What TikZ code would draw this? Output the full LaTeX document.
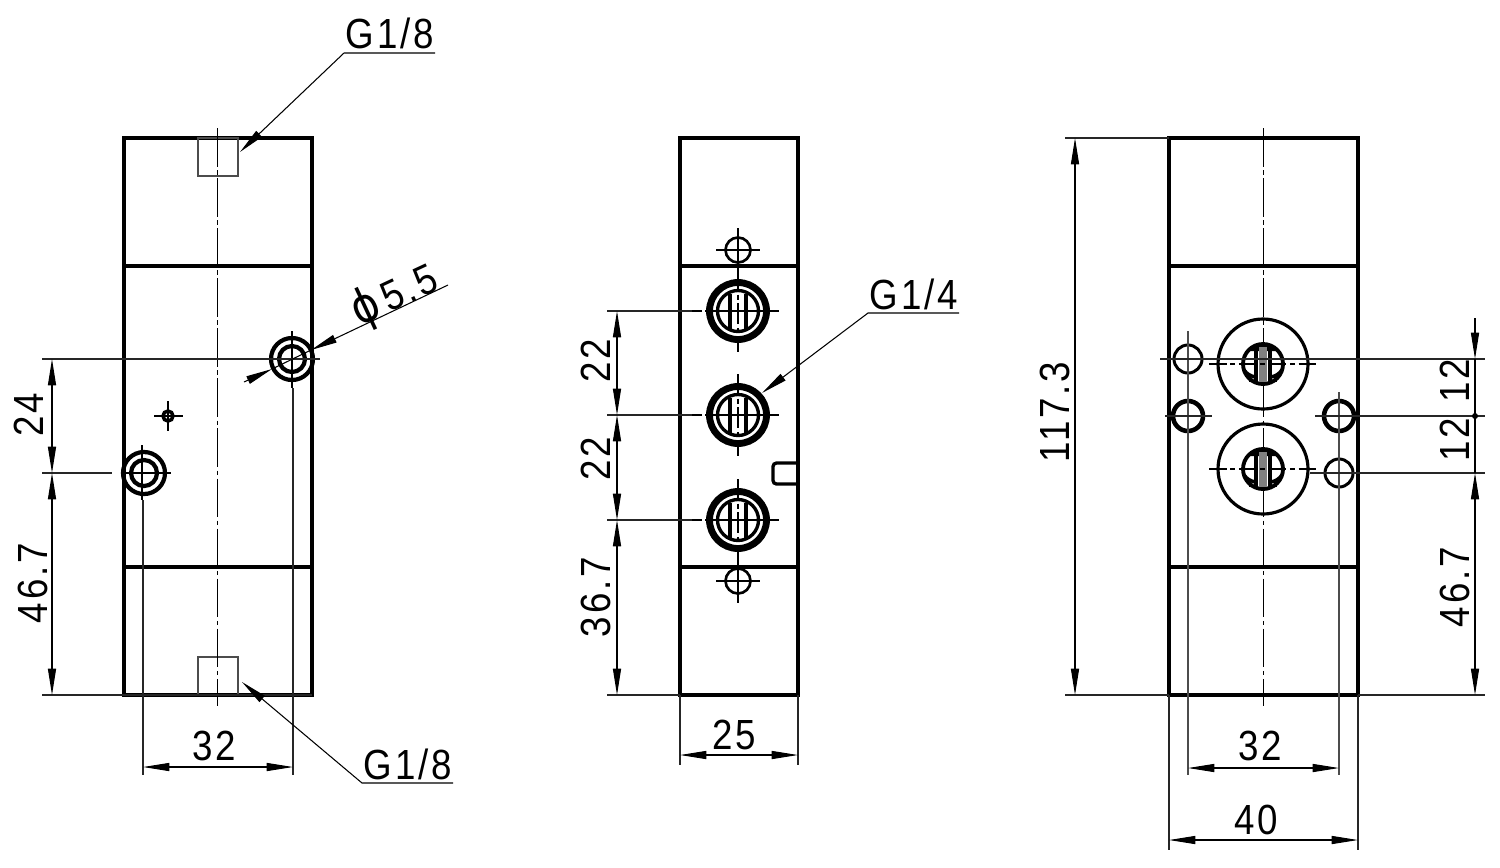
\documentclass[tikz,border=0pt]{standalone}
\usepackage{fontspec}
\setmainfont{Liberation Sans}[LetterSpace=8]
\newfontfamily\phifont{DejaVu Sans}
\usetikzlibrary{arrows.meta,calc}
\newcommand{\lbl}[1]{\scalebox{.87}[1]{#1}}
\tikzset{
  body/.style={line width=1.9pt,black},
  thin line/.style={line width=.6pt,black},
  ext/.style={line width=.6pt,black!85},
  dim/.style={line width=.6pt,black,{Triangle[length=15pt,width=4.6pt]}-{Triangle[length=15pt,width=4.6pt]}},
  onearrow/.style={line width=.6pt,black,-{Triangle[length=15pt,width=4.6pt]}},
  axis/.style={line width=.55pt,black,dash pattern=on 22pt off 2pt on 2.5pt off 2pt},
  txt/.style={font=\fontsize{24}{24}\selectfont,inner sep=0pt},
  ringo/.style={line width=2.4pt},
}
\newcommand{\midport}[1]{%
  \draw[line width=3.9pt] (#1) circle[radius=28.5];
  \draw[line width=1.9pt] (#1) circle[radius=20.5];
  \draw[line width=2pt] ($(#1)+(-8,-17)$) -- ($(#1)+(-8,18)$);
  \draw[line width=2pt] ($(#1)+(8,-17)$) -- ($(#1)+(8,18)$);
  \draw[line width=.6pt] ($(#1)+(-48,0)$) -- ($(#1)+(-36,0)$);
  \draw[line width=.6pt] ($(#1)+(-33,0)$) -- ($(#1)+(41,0)$);
  \draw[line width=.6pt,dash pattern=on 12pt off 2pt on 3pt off 2pt] ($(#1)+(0,-41)$) -- ($(#1)+(0,41)$);
}
\newcommand{\rightport}[1]{%
  \draw[line width=1.8pt] (#1) circle[radius=45];
  \fill ($(#1)+(-16,-13)$) arc[start angle=219,end angle=321,radius=21] -- cycle;
  \draw[line width=2.2pt] (#1) circle[radius=20];
  \fill[black!50] ($(#1)+(-4,-17)$) rectangle ($(#1)+(4,18)$);
  \draw[line width=1.9pt] ($(#1)+(-7,-17)$) -- ($(#1)+(-7,19)$);
  \draw[line width=1.9pt] ($(#1)+(7,-17)$) -- ($(#1)+(7,19)$);
  \draw[line width=2pt] ($(#1)+(-19,6)$) to[bend right=20] ($(#1)+(-8,13)$);
  \draw[line width=2pt] ($(#1)+(19,6)$) to[bend left=20] ($(#1)+(8,13)$);
  \draw[line width=1.2pt] ($(#1)+(-13,11)$) -- ($(#1)+(-13,18)$);
  \draw[line width=1.2pt] ($(#1)+(13,11)$) -- ($(#1)+(13,18)$);
}
\begin{document}
\begin{tikzpicture}[x=0.02cm,y=-0.02cm]
\useasboundingbox (0,0) rectangle (1500,867);
% ------- left view
\coordinate (LA) at (124,138); \coordinate (LB) at (312,695);
\draw[body] (LA) rectangle (LB);
\draw[body] (124,266) -- (312,266);
\draw[body] (124,567) -- (312,567);
\draw[thin line,black!70] (198,138) rectangle (238,176);
\draw[thin line,black!70] (198,657) rectangle (238,695);
\draw[axis] (217,128) -- (217,706);
\coordinate (LH1) at (292,359); \coordinate (LH2) at (144,473); \coordinate (LH3) at (168,416);
\draw[ringo] (LH1) circle[radius=21]; \draw[ringo] (LH1) circle[radius=13];
\draw[ringo] (LH2) circle[radius=21]; \draw[ringo] (LH2) circle[radius=13];
\draw[line width=2pt] (LH3) circle[radius=5];
\draw[thin line] (154,416) -- (183,416); \draw[thin line] (168,401) -- (168,431);
\draw[thin line] (142,445) -- (142,500); \draw[thin line] (124,473) -- (171,473);
\draw[thin line] (292,331) -- (292,388);
% dims left
\coordinate (LD1) at (42,359); \coordinate (LD2) at (42,473); \coordinate (LD3) at (42,695);
\coordinate (LE1) at (52,359); \coordinate (LE2) at (52,473); \coordinate (LE3) at (52,695);
\draw[ext] (LD1) -- (320,359);
\draw[ext] (LD2) -- (112,473);
\draw[ext] (LD3) -- (LB |- LD3);
\draw[dim] (LE1) -- (LE2);
\draw[dim] (LE2) -- (LE3);
\node[txt,rotate=90] (l24) at (29,415) {\lbl{24}};
\node[txt,rotate=90] (l467) at (33,583) {\lbl{46.7}};
\coordinate (LF1) at (143,500); \coordinate (LF2) at (293,388);
\coordinate (LG1) at (143,767); \coordinate (LG2) at (293,767);
\draw[ext] (LF1) -- (143,775); \draw[ext] (LF2) -- (293,775);
\draw[dim] (LG1) -- (LG2);
\node[txt] (l32a) at (214,746) {\lbl{32}};
% leaders
\coordinate (TA) at (240,152); \coordinate (TB) at (344,53); \coordinate (TC) at (435,53);
\draw[onearrow] (TC) -- (TB) -- (TA);
\node[txt] (g18a) at (390,33) {\lbl{G1/8}};
\coordinate (BA) at (242,682); \coordinate (BB) at (362,783); \coordinate (BC) at (453,783);
\draw[onearrow] (BC) -- (BB) -- (BA);
\node[txt] (g18b) at (408,764) {\lbl{G1/8}};
\coordinate (PA) at (448,285); \coordinate (PB) at (311,350); \coordinate (PC) at (272,369); \coordinate (PD) at (244,382);
\draw[onearrow] (PA) -- (PB);
\draw[onearrow] (PD) -- (PC);
\draw[thin line] (PB) -- (PC);
\node[txt,rotate=25] (phi) at (395,296) {\lbl{{\phifont\fontsize{27}{27}\selectfont ϕ}\,5.5}};
% ------- middle view
\draw[body] (680,138) rectangle (798,695);
\draw[body] (680,266) -- (798,266);
\draw[body] (680,567) -- (798,567);
\coordinate (MH1) at (738,250); \coordinate (MH2) at (738,581);
\foreach \c in {MH1,MH2}{
  \draw[line width=1.5pt] (\c) circle[radius=12.5];
  \draw[thin line] ($(\c)+(-22,0)$) -- ($(\c)+(22,0)$);
  \draw[thin line] ($(\c)+(0,-22)$) -- ($(\c)+(0,22)$);
}
\coordinate (MP1) at (738,311); \coordinate (MP2) at (738,415); \coordinate (MP3) at (738,520);
\midport{MP1}\midport{MP2}\midport{MP3}
\draw[line width=1.9pt,rounded corners=2pt] (798,463) -- (773,463) -- (773,484) -- (798,484);
\draw[ext] (607,311) -- (692,311);
\draw[ext] (607,415) -- (692,415);
\draw[ext] (607,520) -- (692,520);
\draw[ext] (607,695) -- (680,695);
\coordinate (MD1) at (617,311); \coordinate (MD2) at (617,415); \coordinate (MD3) at (617,520); \coordinate (MD4) at (617,695);
\draw[dim] (MD1) -- (MD2); \draw[dim] (MD2) -- (MD3); \draw[dim] (MD3) -- (MD4);
\node[txt,rotate=90] (m22a) at (596,361) {\lbl{22}};
\node[txt,rotate=90] (m22b) at (596,459) {\lbl{22}};
\node[txt,rotate=90] (m367) at (596,597) {\lbl{36.7}};
\coordinate (MLA) at (762,393); \coordinate (MLB) at (868,313); \coordinate (MLC) at (959,313);
\draw[onearrow] (MLC) -- (MLB) -- (MLA);
\node[txt] (g14) at (914,294) {\lbl{G1/4}};
\draw[ext] (680,695) -- (680,765); \draw[ext] (798,695) -- (798,765);
\coordinate (MG1) at (680,755); \coordinate (MG2) at (798,755);
\draw[dim] (MG1) -- (MG2);
\node[txt] (m25) at (734,735) {\lbl{25}};
% ------- right view
\draw[body] (1169,138) rectangle (1358,695);
\draw[body] (1169,266) -- (1358,266);
\draw[body] (1169,567) -- (1358,567);
\draw[axis] (1263,128) -- (1263,706);
\coordinate (RP1) at (1263,364); \coordinate (RP2) at (1263,469);
\rightport{RP1}\rightport{RP2}
\draw[thin line,dash pattern=on 10pt off 2pt on 3pt off 2pt] (1209,364) -- (1318,364);
\draw[thin line,dash pattern=on 10pt off 2pt on 3pt off 2pt] (1209,469) -- (1318,469);
\coordinate (RS1) at (1188,359); \coordinate (RS2) at (1188,416); \coordinate (RS3) at (1339,416); \coordinate (RS4) at (1339,473);
\draw[line width=1.7pt] (RS1) circle[radius=14];
\draw[line width=2.6pt] (RS2) circle[radius=15];
\draw[line width=2.6pt] (RS3) circle[radius=15];
\draw[line width=1.7pt] (RS4) circle[radius=14];
\draw[thin line,black!70] (1188,331) -- (1188,775);
\draw[thin line,black!70] (1339,392) -- (1339,775);
% extension lines right
\draw[ext] (1160,359) -- (1485,359);
\draw[ext] (1165,416) -- (1212,416);
\draw[ext] (1315,416) -- (1485,416);
\draw[ext] (1310,473) -- (1485,473);
\draw[ext] (1065,138) -- (1169,138);
\draw[ext] (1065,695) -- (1169,695);
\draw[ext] (1358,695) -- (1485,695);
\coordinate (RD1) at (1075,138); \coordinate (RD2) at (1075,695);
\draw[dim] (RD1) -- (RD2);
\node[txt,rotate=90] (r1173) at (1055,412) {\lbl{117.3}};
\coordinate (RE0) at (1475,318); \coordinate (RE1) at (1475,359); \coordinate (RE2) at (1475,416); \coordinate (RE3) at (1475,473); \coordinate (RE4) at (1475,695);
\draw[onearrow] (RE0) -- (RE1);
\draw[thin line] (RE1) -- (RE3);
\fill (RE2) circle[radius=3];
\draw[dim] (RE3) -- (RE4);
\node[txt,rotate=90] (r12a) at (1455,381) {\lbl{12}};
\node[txt,rotate=90] (r12b) at (1455,440) {\lbl{12}};
\node[txt,rotate=90] (r467) at (1455,587) {\lbl{46.7}};
\coordinate (RG1) at (1188,768); \coordinate (RG2) at (1339,768);
\draw[dim] (RG1) -- (RG2);
\node[txt] (r32) at (1260,746) {\lbl{32}};
\draw[ext] (1169,695) -- (1169,850); \draw[ext] (1358,695) -- (1358,850);
\coordinate (RH1) at (1169,840); \coordinate (RH2) at (1358,840);
\draw[dim] (RH1) -- (RH2);
\node[txt] (r40) at (1256,820) {\lbl{40}};
\end{tikzpicture}
\end{document}
